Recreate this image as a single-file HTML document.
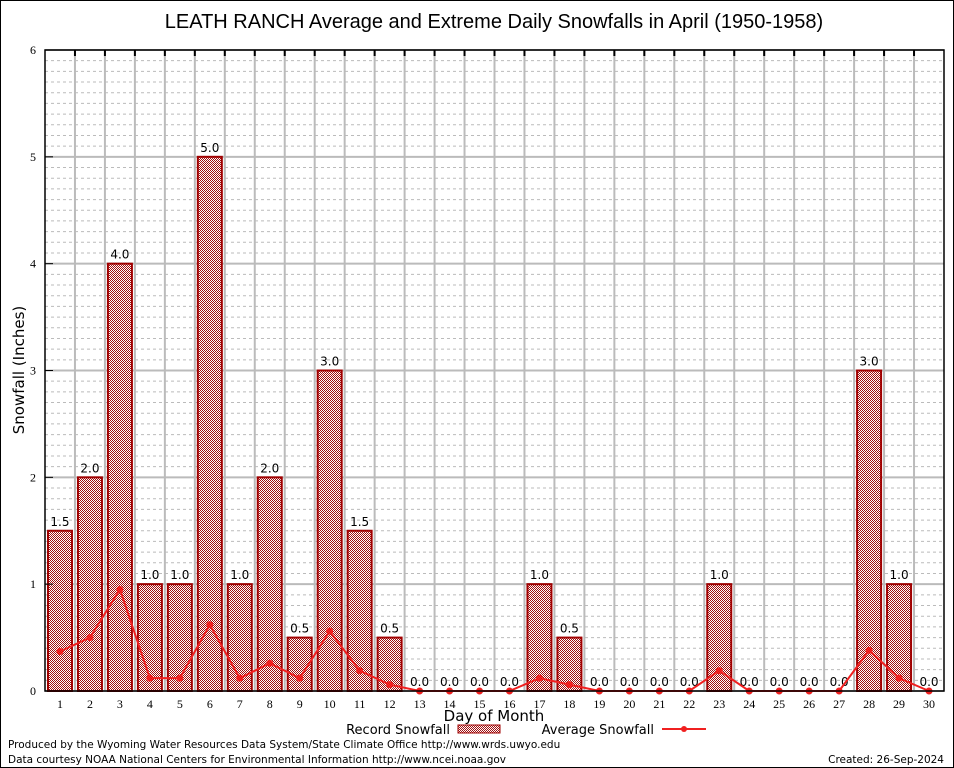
<!DOCTYPE html>
<html><head><meta charset="utf-8"><style>
body{margin:0;background:#fff}
svg{display:block;font-family:"DejaVu Sans","Liberation Sans",sans-serif}
</style></head><body>
<svg width="954" height="768" viewBox="0 0 954 768">
<defs>
<pattern id="chk" width="2" height="2" patternUnits="userSpaceOnUse">
<rect width="2" height="2" fill="#fff"/><rect width="1" height="1" fill="#a01010"/><rect x="1" y="1" width="1" height="1" fill="#a01010"/>
</pattern>
</defs>
<rect x="0.5" y="0.5" width="953" height="767" fill="#fff" stroke="#000"/>
<text x="494" y="28" font-size="20" text-anchor="middle" font-family="Liberation Sans, sans-serif">LEATH RANCH Average and Extreme Daily Snowfalls in April (1950-1958)</text>
<g id="grid"></g>
<g id="bars"></g>
<g id="avg"></g>
<g id="axes"></g>
<text x="24" y="370" font-size="15" text-anchor="middle" transform="rotate(-90 24 370)">Snowfall (Inches)</text>
<text x="494" y="721" font-size="15" text-anchor="middle">Day of Month</text>
<g>
<text x="450" y="734" font-size="13" text-anchor="end">Record Snowfall</text>
<rect x="458" y="725" width="42" height="8" fill="url(#chk)" stroke="#a00000"/>
<text x="654" y="734" font-size="13" text-anchor="end">Average Snowfall</text>
<line x1="662" y1="729" x2="706" y2="729" stroke="#f02020" stroke-width="2"/>
<circle cx="684" cy="729" r="3" fill="#f02020"/>
</g>
<text x="8" y="748" font-size="10.5">Produced by the Wyoming Water Resources Data System/State Climate Office http://www.wrds.uwyo.edu</text>
<text x="8" y="763" font-size="10.5">Data courtesy NOAA National Centers for Environmental Information http://www.ncei.noaa.gov</text>
<text x="944" y="763" font-size="10.5" text-anchor="end">Created: 26-Sep-2024</text>
</svg>
<script>
const days=[1,2,3,4,5,6,7,8,9,10,11,12,13,14,15,16,17,18,19,20,21,22,23,24,25,26,27,28,29,30];
const recordSnow=[1.5,2.0,4.0,1.0,1.0,5.0,1.0,2.0,0.5,3.0,1.5,0.5,0,0,0,0,1.0,0.5,0,0,0,0,1.0,0,0,0,0,3.0,1.0,0];
const avgSnow=[0.37,0.5,0.95,0.12,0.12,0.62,0.12,0.26,0.12,0.56,0.19,0.06,0,0,0,0,0.12,0.06,0,0,0,0,0.19,0,0,0,0,0.38,0.12,0];
const yTicks=[0,1,2,3,4,5,6];
const L=45,R=944,T=50,B=691,yMax=6;
const NS='http://www.w3.org/2000/svg';
const xs=d=>L+(d-0.5)*((R-L)/days.length);
const ys=v=>B-v/yMax*(B-T);
function mk(tag,attrs,parent,txt){const e=document.createElementNS(NS,tag);for(const k in attrs)e.setAttribute(k,attrs[k]);if(txt!==undefined)e.textContent=txt;document.getElementById(parent).appendChild(e);return e;}
for(let i=1;i<60;i++){if(i%10===0)continue;const y=ys(i/10);
const g=mk('line',{x1:L,x2:R,y1:y,y2:y,stroke:'#bbb','stroke-dasharray':'3,3'},'grid');

}
yTicks.forEach(t=>{const y=ys(t);
const g=mk('line',{x1:L,x2:R,y1:y,y2:y,stroke:'#bbb','stroke-width':2},'grid');


const tl=mk('text',{x:L-9,y:y+4,'font-size':12,'text-anchor':'end','font-family':'Liberation Serif, serif'},'axes',String(t));


const tk=mk('line',{x1:L,x2:L+8,y1:y,y2:y,stroke:'#000'},'axes');

});
for(let i=1;i<days.length;i++){const x=L+i*(R-L)/days.length;
const g=mk('line',{x1:x,x2:x,y1:T,y2:B,stroke:'#bbb','stroke-width':2},'grid');


const tk=mk('line',{x1:x,x2:x,y1:T,y2:T+6,stroke:'#000','stroke-width':2},'axes');

}
days.forEach((d,i)=>{const v=recordSnow[i];const x=xs(d);
if(v>0){const b=mk('rect',{x:x-12,y:ys(v),width:24,height:B-ys(v),fill:'url(#chk)',stroke:'#a00000','stroke-width':2},'bars');

}
const t=mk('text',{x:x,y:ys(v)-5,'font-size':12,'text-anchor':'middle'},'bars',v.toFixed(1));


const xl=mk('text',{x:x,y:B+17,'font-size':12,'text-anchor':'middle','font-family':'Liberation Serif, serif'},'axes',String(d));

});
const pts=days.map((d,i)=>xs(d)+','+ys(avgSnow[i])).join(' ');
const pl=mk('polyline',{points:pts,fill:'none',stroke:'#f02020','stroke-width':2},'avg');


days.forEach((d,i)=>{const c=mk('circle',{cx:xs(d),cy:ys(avgSnow[i]),r:3.5,fill:'#f02020'},'avg');

});
const fr=mk('rect',{x:L,y:T,width:R-L,height:B-T,fill:'none',stroke:'#000','stroke-width':1.5},'axes');


</script>
</body></html>
